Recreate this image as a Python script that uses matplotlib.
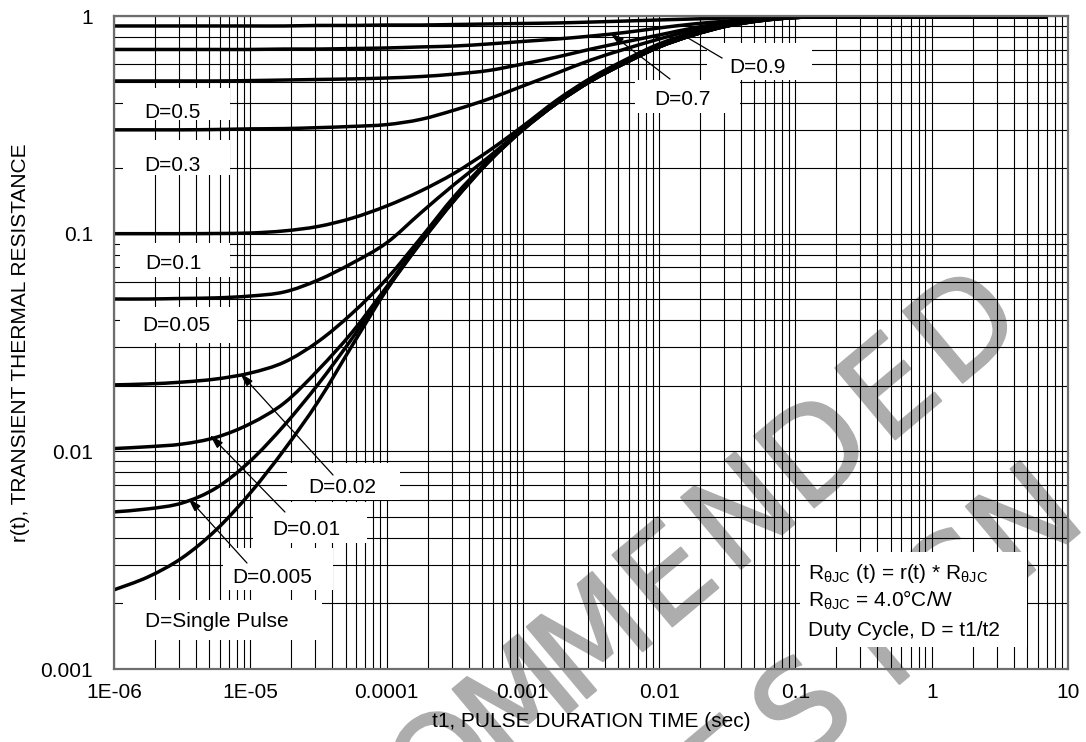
import numpy as np
import matplotlib
matplotlib.use("Agg")
import matplotlib.pyplot as plt
from matplotlib import patheffects
from matplotlib.patches import Rectangle, PathPatch
from matplotlib.path import Path
from matplotlib.ticker import LogLocator, NullFormatter, FixedLocator, FixedFormatter

plt.rcParams['font.family'] = ['Liberation Sans', 'DejaVu Sans']
plt.rcParams['mathtext.fontset'] = 'custom'
plt.rcParams['mathtext.rm'] = 'Liberation Sans'
plt.rcParams['mathtext.it'] = 'Liberation Sans:italic'
plt.rcParams['mathtext.bf'] = 'Liberation Sans:bold'

# ---- data: pulse duration (s) and normalized transient thermal resistance r(t)
t1 = [1e-6, 1.78e-6, 3.16e-6, 5.62e-6, 1e-5, 1.78e-5, 3.16e-5, 5.62e-5,
      1e-4, 1.78e-4, 3.16e-4, 5.62e-4, 1e-3, 1.78e-3, 3.16e-3, 5.62e-3,
      1e-2, 1.78e-2, 3.16e-2, 5.62e-2, 0.1, 0.178, 1, 7]

r_d09 = [0.900, 0.900, 0.900, 0.900, 0.900, 0.900, 0.905, 0.905, 0.909, 0.909, 0.914, 0.919,
         0.924, 0.929, 0.938, 0.948, 0.959, 0.969, 0.979, 0.985, 0.990, 0.990, 0.990, 0.990]
r_d07 = [0.702, 0.702, 0.702, 0.702, 0.702, 0.705, 0.705, 0.709, 0.713, 0.721, 0.728, 0.744,
         0.764, 0.784, 0.809, 0.840, 0.881, 0.919, 0.948, 0.974, 0.989, 0.990, 0.990, 0.990]
r_d05 = [0.503, 0.503, 0.503, 0.503, 0.505, 0.508, 0.511, 0.514, 0.519, 0.527, 0.541, 0.562,
         0.602, 0.648, 0.705, 0.760, 0.818, 0.881, 0.934, 0.969, 0.989, 0.990, 0.990, 0.990]
r_d03 = [0.300, 0.300, 0.300, 0.301, 0.303, 0.304, 0.307, 0.311, 0.317, 0.335, 0.370, 0.416,
         0.477, 0.547, 0.628, 0.705, 0.784, 0.862, 0.924, 0.964, 0.989, 0.990, 0.990, 0.990]
r_d01 = [0.100, 0.100, 0.100, 0.1002, 0.1007, 0.103, 0.108, 0.118, 0.134, 0.157, 0.190, 0.240,
         0.312, 0.411, 0.519, 0.628, 0.744, 0.840, 0.919, 0.964, 0.989, 0.990, 0.990, 0.990]
r_d005 = [0.0501, 0.0501, 0.0504, 0.0507, 0.0517, 0.0540, 0.0613, 0.0733, 0.0907, 0.1245, 0.169, 0.225,
          0.303, 0.403, 0.508, 0.615, 0.728, 0.827, 0.909, 0.959, 0.984, 0.990, 0.990, 0.990]
r_d002 = [0.0202, 0.0204, 0.0208, 0.0215, 0.0229, 0.0257, 0.0320, 0.0432, 0.0619, 0.0955, 0.149, 0.218,
          0.303, 0.398, 0.503, 0.608, 0.721, 0.818, 0.900, 0.953, 0.984, 0.990, 0.990, 0.990]
r_d001 = [0.0103, 0.0105, 0.0108, 0.0116, 0.0134, 0.0167, 0.0237, 0.0354, 0.0569, 0.0927, 0.144, 0.216,
          0.300, 0.398, 0.503, 0.608, 0.721, 0.818, 0.900, 0.953, 0.984, 0.990, 0.990, 0.990]
r_d0005 = [0.00527, 0.00544, 0.00579, 0.00679, 0.00903, 0.0132, 0.0204, 0.0332, 0.0557, 0.0913, 0.143, 0.214,
           0.300, 0.398, 0.503, 0.608, 0.721, 0.818, 0.900, 0.953, 0.984, 0.990, 0.990, 0.990]
r_single = [0.00231, 0.00265, 0.00324, 0.00436, 0.00644, 0.0102, 0.0170, 0.0308, 0.0551, 0.0907, 0.143, 0.214,
            0.300, 0.398, 0.503, 0.608, 0.721, 0.818, 0.900, 0.953, 0.984, 0.990, 0.990, 0.990]

curves = [r_d09, r_d07, r_d05, r_d03, r_d01, r_d005, r_d002, r_d001, r_d0005, r_single]

x_ticks = [1e-6, 1e-5, 1e-4, 1e-3, 1e-2, 1e-1, 1, 10]
x_tick_labels = ['1E-06', '1E-05', '0.0001', '0.001', '0.01', '0.1', '1', '10']
y_ticks = [0.001, 0.01, 0.1, 1]
y_tick_labels = ['0.001', '0.01', '0.1', '1']

FS = 15
GRAY_MARK = '#adadad'


def smooth_log_path(x, y):
    """Catmull-Rom curve through the points, built in log-log space as cubic Beziers."""
    lx, ly = np.log10(x), np.log10(y)
    pts = np.column_stack([lx, ly])
    n = len(pts)
    verts = [pts[0]]
    codes = [Path.MOVETO]
    for i in range(n - 1):
        p0 = pts[max(i - 1, 0)]
        p1 = pts[i]
        p2 = pts[i + 1]
        p3 = pts[min(i + 2, n - 1)]
        c1 = p1 + (p2 - p0) / 6.0
        c2 = p2 - (p3 - p1) / 6.0
        verts += [c1, c2, p2]
        codes += [Path.CURVE4] * 3
    verts = 10.0 ** np.array(verts)
    return Path(verts, codes)


fig = plt.figure(figsize=(10.86, 7.42), dpi=100)
ax = fig.add_axes([0.10497, 0.09838, 0.87845, 0.88005])

ax.set_xscale('log')
ax.set_yscale('log')
ax.set_xlim(1e-6, 10)
ax.set_ylim(0.001, 1)

ax.xaxis.set_major_locator(FixedLocator(x_ticks))
ax.xaxis.set_major_formatter(FixedFormatter(x_tick_labels))
ax.yaxis.set_major_locator(FixedLocator(y_ticks))
ax.yaxis.set_major_formatter(FixedFormatter(y_tick_labels))
ax.xaxis.set_minor_locator(LogLocator(base=10, subs=range(2, 10), numticks=20))
ax.yaxis.set_minor_locator(LogLocator(base=10, subs=range(2, 10), numticks=20))
ax.xaxis.set_minor_formatter(NullFormatter())
ax.yaxis.set_minor_formatter(NullFormatter())

ax.grid(True, which='both', color='black', linewidth=0.8)
ax.tick_params(which='both', length=0)
ax.tick_params(axis='x', labelsize=FS, pad=10)
ax.tick_params(axis='y', labelsize=FS, pad=15)
for sp in ax.spines.values():
    sp.set_color('#6e6e6e')
    sp.set_linewidth(1.6)

ax.set_xlabel('t1, PULSE DURATION TIME (sec)', fontsize=FS)
ax.set_ylabel('r(t), TRANSIENT THERMAL RESISTANCE', fontsize=FS)
ax.xaxis.set_label_coords(0.5, -0.066)
ax.yaxis.set_label_coords(-0.088, 0.5)

# faint diagonal stamp behind the grid, letters set on an even pitch
stamp_fx = [patheffects.withStroke(linewidth=1.5, foreground=GRAY_MARK)]
step_x, step_y = 0.0684, 0.0840
for txt, ref_idx, fx0, fy0 in [('NOT RECOMMENDED', 14, 0.8913, 0.5526),
                               ('FOR NEW DESIGN', 13, 0.9484, 0.2884)]:
    for i, ch in enumerate(txt):
        k = i - ref_idx
        fx, fy = fx0 + k * step_x, fy0 + k * step_y
        if ch == ' ' or fy < -0.1 or fx > 1.1:
            continue
        ax.text(fx, fy, ch, transform=fig.transFigure,
                rotation=40, rotation_mode='anchor', ha='center', va='center',
                fontsize=92, color=GRAY_MARK, family='DejaVu Sans',
                zorder=0.5, clip_on=False, path_effects=stamp_fx)

for r in curves:
    ax.add_patch(PathPatch(smooth_log_path(t1, r), transform=ax.transData, fill=False,
                           edgecolor='black', linewidth=2.5, joinstyle='round',
                           capstyle='butt', zorder=2))

# label backgrounds (axes fraction: x0, x1, y0, y1)
boxes = [
    (0.0094, 0.1216, 0.8407, 0.8897),   # D=0.5
    (0.0094, 0.1216, 0.7565, 0.8101),   # D=0.3
    (0.0063, 0.1216, 0.6003, 0.6524),   # D=0.1
    (0.0063, 0.1289, 0.4992, 0.5544),   # D=0.05
    (0.1813, 0.2998, 0.2588, 0.3155),   # D=0.02
    (0.1457, 0.2652, 0.1930, 0.2557),   # D=0.01
    (0.1143, 0.2296, 0.1210, 0.1853),   # D=0.005
    (0.0094, 0.2180, 0.0444, 0.1057),   # single pulse
    (0.6216, 0.7317, 0.9020, 0.9587),   # D=0.9
    (0.5461, 0.6562, 0.8515, 0.9020),   # D=0.7
    (0.7191, 0.9570, 0.0337, 0.1792),   # notes
]
for x0, x1, y0, y1 in boxes:
    ax.add_patch(Rectangle((x0, y0), x1 - x0, y1 - y0, transform=ax.transAxes,
                           facecolor='white', edgecolor='none', zorder=3))

labels = [
    ('D=0.5', 0.0608, 0.8515),
    ('D=0.3', 0.0608, 0.7703),
    ('D=0.1', 0.0618, 0.6217),
    ('D=0.05', 0.0650, 0.5268),
    ('D=0.02', 0.2390, 0.2787),
    ('D=0.01', 0.2013, 0.2129),
    ('D=0.005', 0.1656, 0.1394),
    ('D=Single Pulse', 0.1080, 0.0720),
    ('D=0.9', 0.6740, 0.9219),
    ('D=0.7', 0.5954, 0.8714),
]
for txt, x, y in labels:
    ax.text(x, y, txt, transform=ax.transAxes, ha='center', va='center',
            fontsize=FS, zorder=4)

notes = [
    (r'R$_{\mathrm{θJC}}$ (t) = r(t) * R$_{\mathrm{θJC}}$', 0.147),
    (r'R$_{\mathrm{θJC}}$ = 4.0°C/W', 0.1057),
    ('Duty Cycle, D = t1/t2', 0.0597),
]
for txt, y in notes:
    ax.text(0.7275, y, txt, transform=ax.transAxes, ha='left', va='center',
            fontsize=FS, zorder=4)

# leader arrows from labels to their curves
arrow_props = dict(arrowstyle='-|>,head_length=0.7,head_width=0.2', color='black',
                   linewidth=0.9, shrinkA=0, shrinkB=0, mutation_scale=12)
leaders = [
    ((0.2296, 0.2971), (0.1321, 0.4533)),   # D=0.02
    ((0.1792, 0.2404), (0.1006, 0.3583)),   # D=0.01
    ((0.1394, 0.1623), (0.0776, 0.2619)),   # D=0.005
    ((0.5828, 0.9035), (0.5199, 0.9740)),   # D=0.7
]
for start, tip in leaders:
    ax.annotate('', xy=tip, xytext=start, xycoords='axes fraction',
                textcoords='axes fraction', arrowprops=arrow_props, zorder=5)
ax.plot([0.6373, 0.5964], [0.9357, 0.9709], transform=ax.transAxes,
        color='black', linewidth=0.9, zorder=5)   # D=0.9 leader

fig.savefig('out.png', dpi=100)
